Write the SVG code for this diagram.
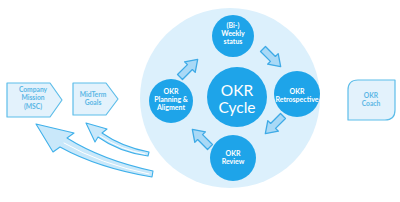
<svg xmlns="http://www.w3.org/2000/svg" width="400" height="202" viewBox="0 0 400 202">
<defs>
<style>
.node{fill:#1ea4e9}
.nt{fill:#ffffff;font-family:Lato,"Liberation Sans",sans-serif;font-weight:bold;font-size:7px;text-anchor:middle}
.ct{fill:#ffffff;font-family:Lato,"Liberation Sans",sans-serif;font-size:15.5px;text-anchor:middle}
.box{fill:#e3f2fc;stroke:#5dbde9;stroke-width:1.2;stroke-linejoin:round}
.bt{fill:#5ab6e5;font-family:Lato,"Liberation Sans",sans-serif;font-weight:bold;font-size:6.7px;text-anchor:middle}
.blk{fill:#a9d9f6;stroke:#3eaae6;stroke-width:1.3;stroke-linejoin:round}
.swoosh{fill:#c9e8fa;stroke:#3fb0ea;stroke-width:1.1;stroke-linejoin:round}
.hl{fill:none;stroke:#ffffff;stroke-width:1;stroke-linecap:round}
</style>
<polygon id="blockArrow" points="0,-3.5 14,-3.5 14,-7.5 25,0 14,7.5 14,3.5 0,3.5"/>
</defs>
<rect width="400" height="202" fill="#ffffff"/>
<circle cx="230" cy="98" r="90" fill="#dcf0fc"/>

<g id="connectors">
<use href="#blockArrow" class="blk" transform="translate(180,77) rotate(-45)"/>
<use href="#blockArrow" class="blk" transform="translate(263,49) rotate(45)"/>
<use href="#blockArrow" class="blk" transform="translate(283,116) rotate(135)"/>
<use href="#blockArrow" class="blk" transform="translate(210,147) rotate(-135)"/>
<g id="swoosh-mission">
<path class="swoosh" d="M36,124 L74,133 L67,138 Q102,160 153,171 L152,177 Q98,168 60,147 L53,152 Z"/>
<path class="hl" d="M64,143 Q101,164 149,174"/>
</g>
<g id="swoosh-goals">
<path class="swoosh" d="M86,123 L107,129 L102,133 Q122,147 149,152 L148,156 Q119,152 98,137 L95,142 Z"/>
<path class="hl" d="M100,136 Q121,150 145,154"/>
</g>
</g>

<g id="node-cycle">
<circle class="node" cx="237" cy="97" r="30"/>
<text class="ct" x="237" y="96">OKR</text>
<text class="ct" x="237" y="113">Cycle</text>
</g>
<g id="node-weekly">
<circle class="node" cx="233" cy="36" r="21"/>
<text class="nt" x="233" y="27.5">(Bi-)</text>
<text class="nt" x="233" y="36">Weekly</text>
<text class="nt" x="233" y="44">status</text>
</g>
<g id="node-retro">
<circle class="node" cx="297" cy="94" r="23"/>
<text class="nt" x="297" y="93.5">OKR</text>
<text class="nt" x="297" y="102">Retrospective</text>
</g>
<g id="node-review">
<circle class="node" cx="233" cy="158" r="23"/>
<text class="nt" x="233" y="155.5">OKR</text>
<text class="nt" x="233" y="164">Review</text>
</g>
<g id="node-planning">
<circle class="node" cx="171" cy="101" r="22"/>
<text class="nt" x="171" y="94">OKR</text>
<text class="nt" x="171" y="102">Planning &amp;</text>
<text class="nt" x="171" y="110">Aligment</text>
</g>

<g id="node-mission">
<polygon class="box" points="7,83 50,83 62,100 50,117 7,117"/>
<text class="bt" x="33" y="92">Company</text>
<text class="bt" x="33" y="100">Mission</text>
<text class="bt" x="33" y="108.5">(MSC)</text>
</g>
<g id="node-goals">
<polygon class="box" points="73,83 106,83 118,99 106,115 73,115"/>
<text class="bt" x="93" y="97">MidTerm</text>
<text class="bt" x="93" y="105">Goals</text>
</g>
<g id="node-coach">
<path class="box" d="M358,80 H395 V110 Q395,120 385,120 H348 V90 Q348,80 358,80 Z"/>
<text class="bt" x="371" y="98">OKR</text>
<text class="bt" x="371" y="106">Coach</text>
</g>
</svg>
